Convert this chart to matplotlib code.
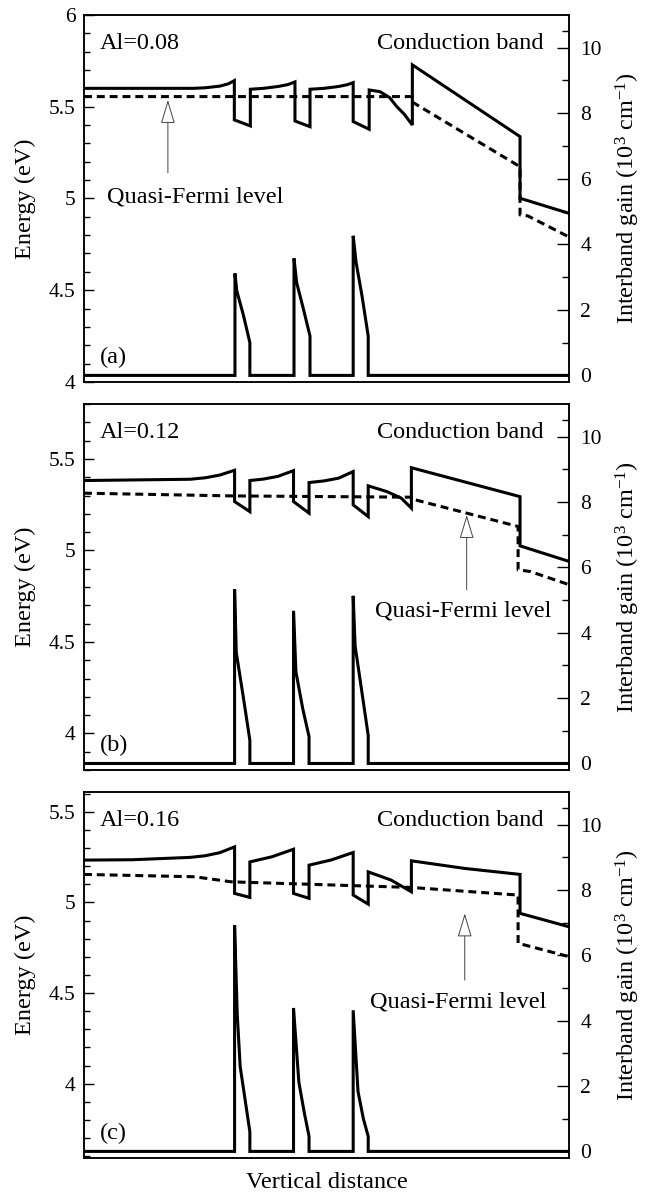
"""Band diagrams with interband gain for three Al compositions."""

import matplotlib
matplotlib.use("Agg")
import matplotlib.pyplot as plt
import matplotlib.ticker as mticker

# ---------------------------------------------------------------------------
# Data (x is position in arbitrary units, 0-100 across the structure)
# ---------------------------------------------------------------------------

AL_LABELS = ["Al=0.08", "Al=0.12", "Al=0.16"]
PANEL_TAGS = ["(a)", "(b)", "(c)"]

# (a) Al=0.08
cb_x_a = [0, 22.5, 25, 28, 29.8, 31.0, 31.0, 34.3, 34.3, 37, 40, 42, 43.5, 43.5, 46.6, 46.6,
          49.5, 52.5, 54.3, 55.5, 55.5, 58.8, 58.8, 61.0, 63, 64.5, 66, 67.7, 67.7, 89.9, 89.9, 100]
cb_e_a = [5.60, 5.60, 5.603, 5.612, 5.625, 5.642, 5.428, 5.395, 5.595, 5.60, 5.61, 5.62, 5.635,
          5.422, 5.391, 5.595, 5.60, 5.61, 5.62, 5.631, 5.419, 5.377, 5.591, 5.582, 5.55, 5.50,
          5.46, 5.40, 5.728, 5.337, 5.001, 4.919]
fl_x_a = [0, 67.7, 67.7, 89.9, 89.9, 91.5, 100]
fl_e_a = [5.555, 5.555, 5.525, 5.173, 4.91, 4.905, 4.79]
gain_x_a = [0, 31.13, 31.13, 31.5, 32.85, 34.2, 34.2, 43.3, 43.3, 43.85, 45.2, 46.6, 46.6,
            55.5, 55.5, 56.1, 57.35, 58.6, 58.6, 100]
gain_g_a = [0, 0, 3.11, 2.58, 1.85, 1.0, 0, 0, 3.57, 2.83, 2.05, 1.2, 0, 0, 4.26, 3.45, 2.4,
            1.2, 0, 0]

# (b) Al=0.12
cb_x_b = [0, 21.9, 25, 28, 31.05, 31.05, 34.2, 34.2, 37, 40, 43.2, 43.2, 46.4, 46.4, 49.5,
          52.5, 55.5, 55.5, 58.6, 58.6, 62.4, 65.4, 67.5, 67.5, 89.9, 89.9, 100]
cb_e_b = [5.382, 5.389, 5.397, 5.412, 5.438, 5.267, 5.212, 5.382, 5.39, 5.405, 5.436, 5.267,
          5.204, 5.371, 5.38, 5.395, 5.431, 5.249, 5.185, 5.353, 5.322, 5.286, 5.231, 5.452,
          5.294, 5.025, 4.94]
fl_x_b = [0, 30.4, 67.5, 67.5, 89.5, 89.5, 92, 100]
fl_e_b = [5.313, 5.298, 5.291, 5.282, 5.131, 4.894, 4.885, 4.813]
gain_x_b = [0, 31.05, 31.05, 31.4, 32.9, 34.2, 34.2, 43.2, 43.2, 43.7, 45.1, 46.4, 46.4,
            55.5, 55.5, 55.9, 57.4, 58.6, 58.6, 100]
gain_g_b = [0, 0, 5.33, 3.40, 1.98, 0.71, 0, 0, 4.67, 2.8, 1.68, 0.82, 0, 0, 5.13, 3.6, 2.08,
            0.86, 0, 0]

# (c) Al=0.16
cb_x_c = [0, 10, 21.9, 25, 28, 31.05, 31.05, 34.2, 34.2, 38.7, 43.2, 43.2, 46.4, 46.4, 51,
          55.5, 55.5, 58.6, 58.6, 63.3, 67.5, 67.5, 78.5, 89.9, 89.9, 100]
cb_e_c = [5.234, 5.236, 5.249, 5.258, 5.275, 5.307, 5.05, 5.028, 5.224, 5.252, 5.294, 5.05,
          5.023, 5.206, 5.235, 5.276, 5.041, 4.991, 5.169, 5.124, 5.059, 5.23, 5.188, 5.155,
          4.94, 4.866]
fl_x_c = [0, 22.8, 30.4, 67.5, 89.5, 89.5, 100]
fl_e_c = [5.155, 5.142, 5.114, 5.083, 5.041, 4.775, 4.701]
gain_x_c = [0, 31.05, 31.05, 31.6, 32.2, 33.3, 34.2, 34.2, 43.2, 43.2, 44.3, 45.4, 46.4, 46.4,
            55.5, 55.5, 56.5, 57.6, 58.6, 58.6, 100]
gain_g_c = [0, 0, 6.92, 4.2, 2.6, 1.5, 0.6, 0, 0, 4.39, 2.12, 1.2, 0.46, 0, 0, 4.32, 1.83, 1.0,
            0.46, 0, 0]

ENERGY_LIMS = [(4.0, 6.0), (3.8, 5.8), (3.59, 5.61)]
GAIN_LIMS = (-0.2, 11.0)

# arrow: x, tip energy, tail energy, text x, text energy
ARROWS = [
    (17.3, 5.537, 5.14, 22.9, 5.008),
    (78.9, 5.194, 4.785, 78.1, 4.667),
    (78.5, 4.94, 4.572, 77.2, 4.453),
]

# ---------------------------------------------------------------------------
# Style
# ---------------------------------------------------------------------------

plt.rcParams.update({
    "font.family": "serif",
    "font.serif": ["Liberation Serif", "DejaVu Serif"],
    "mathtext.fontset": "custom",
    "mathtext.rm": "Liberation Serif",
    "mathtext.default": "regular",
    "font.size": 15,
    "axes.linewidth": 1.1,
})

LW = 2.2
FS_TICK = 15.5
FS_TEXT = 17.5
FS_LABEL = 17.5

PANEL_BOXES = [
    (0.1302, 0.6801, 0.752, 0.3074),
    (0.1302, 0.3551, 0.752, 0.3065),
    (0.1302, 0.0302, 0.752, 0.3065),
]


def draw_panel(fig, box, cb_x, cb_e, fl_x, fl_e, gain_x, gain_g, elims, al, tag, arrow):
    ax = fig.add_axes(box)
    ax.plot(cb_x, cb_e, color="black", lw=LW, solid_joinstyle="miter")
    ax.plot(fl_x, fl_e, color="black", lw=LW, dashes=(2.6, 1.6))
    ax.set_xlim(0, 100)
    ax.set_ylim(*elims)
    ax.set_xticks([])
    ax.yaxis.set_major_locator(mticker.MultipleLocator(0.5))
    ax.yaxis.set_minor_locator(mticker.MultipleLocator(0.1))
    ax.yaxis.set_major_formatter(mticker.FuncFormatter(lambda v, _: f"{v:g}"))
    ax.tick_params(axis="y", which="major", direction="in", length=7.5, width=1.0, pad=6,
                   labelsize=FS_TICK)
    ax.tick_params(axis="y", which="minor", direction="in", length=4.3, width=1.0)
    ax.set_ylabel("Energy (eV)", fontsize=FS_LABEL)
    ax.yaxis.set_label_coords(-0.098, 0.5)

    ax2 = ax.twinx()
    ax2.plot(gain_x, gain_g, color="black", lw=LW, solid_joinstyle="miter")
    ax2.set_ylim(*GAIN_LIMS)
    ax2.set_xlim(0, 100)
    ax2.yaxis.set_major_locator(mticker.FixedLocator([0, 2, 4, 6, 8, 10]))
    ax2.yaxis.set_minor_locator(mticker.FixedLocator([1, 3, 5, 7, 9, 10.5]))
    ax2.tick_params(axis="y", which="major", direction="in", length=8.5, width=1.0, pad=8,
                    labelsize=FS_TICK)
    ax2.tick_params(axis="y", which="minor", direction="in", length=4.8, width=1.0)
    ax2.set_ylabel("Interband gain (10$^{3}$ cm$^{-1}$)", fontsize=FS_LABEL)
    ax2.yaxis.set_label_coords(1.093, 0.5)

    ax.text(0.033, 0.922, al, transform=ax.transAxes, fontsize=FS_TEXT, ha="left", va="center")
    ax.text(0.948, 0.922, "Conduction band", transform=ax.transAxes, fontsize=FS_TEXT,
            ha="right", va="center")
    ax.text(0.033, 0.068, tag, transform=ax.transAxes, fontsize=FS_TEXT, ha="left",
            va="center")

    ax_x, tip, tail, tx, ty = arrow
    ax.annotate("", xy=(ax_x, tip), xytext=(ax_x, tail),
                arrowprops=dict(arrowstyle="-|>,head_length=1.0,head_width=0.3",
                                facecolor="white", edgecolor="#444444", lw=0.7,
                                shrinkA=0, shrinkB=0))
    ax.text(tx, ty, "Quasi-Fermi level", fontsize=FS_TEXT, ha="center", va="center")
    return ax


fig = plt.figure(figsize=(6.45, 11.94), dpi=100)

panels = [
    (cb_x_a, cb_e_a, fl_x_a, fl_e_a, gain_x_a, gain_g_a),
    (cb_x_b, cb_e_b, fl_x_b, fl_e_b, gain_x_b, gain_g_b),
    (cb_x_c, cb_e_c, fl_x_c, fl_e_c, gain_x_c, gain_g_c),
]

axes = []
for i, data in enumerate(panels):
    axes.append(draw_panel(fig, PANEL_BOXES[i], *data, ENERGY_LIMS[i], AL_LABELS[i],
                           PANEL_TAGS[i], ARROWS[i]))

axes[-1].set_xlabel("Vertical distance", fontsize=FS_LABEL, labelpad=10)

fig.savefig("out.png", dpi=100, facecolor="white")
